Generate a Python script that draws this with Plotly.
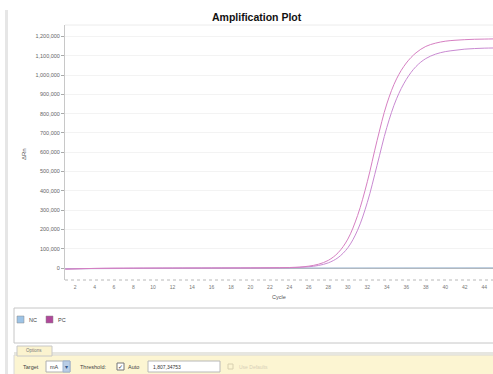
import plotly.graph_objects as go

W, H = 493, 374

cycles = list(range(1, 46))
nc_values = [-4000, -3500, -3000, -2500, -2000, -1500, -1200, -1000, -800, -600,
             -500, -400, -300, -200, -100, 0, 0, 100, 100, 200, 200, 300, 300, 400,
             400, 500, 500, 600, 600, 700, 700, 800, 800, 900, 900, 1000, 1000, 1100,
             1100, 1200, 1200, 1300, 1300, 1400, 1400]
pc1_values = [-6000, -4500, -3000, -2000, -1500, -1000, -800, -600, -400, -300,
              -200, -100, 0, 100, 0, 200, 300, 400, 500, 700, 900, 1300, 1800, 2600,
              4800, 9800, 19900, 39900, 79000, 150000, 272000, 447000, 660000, 850000,
              980000, 1062000, 1115000, 1148000, 1165000, 1175000, 1180000, 1183000,
              1185000, 1186000, 1187000]
pc2_values = [-5000, -4000, -3000, -2200, -1600, -1200, -900, -700, -500, -400,
              -300, -200, -100, 0, 0, 100, 200, 300, 400, 500, 700, 900, 1200, 1600,
              3300, 6600, 13400, 27000, 54000, 105000, 196000, 340000, 532000, 728000,
              877000, 977000, 1044000, 1085000, 1108000, 1121000, 1128000, 1134000,
              1137000, 1139000, 1140000]

x_ticks = list(range(2, 45, 2))
y_ticks = list(range(0, 1200001, 100000))
legend_names = ["NC", "PC"]
legend_colors = ["#9dc3e6", "#b0489a"]


def px(x):
    return x / W


def py(y):
    return 1 - y / H


FONT = "Liberation Sans"
fig = go.Figure()

fig.add_trace(go.Scatter(x=cycles, y=nc_values, mode="lines",
                         line=dict(color="#a9bfd6", width=1), name="NC"))
fig.add_trace(go.Scatter(x=cycles, y=pc2_values, mode="lines", line_shape="spline",
                         line=dict(color="#c98ad2", width=1), name="PC"))
fig.add_trace(go.Scatter(x=cycles, y=pc1_values, mode="lines", line_shape="spline",
                         line=dict(color="#d67fc2", width=1), name="PC"))

fig.update_layout(
    width=W, height=H, margin=dict(l=0, r=0, t=0, b=0),
    paper_bgcolor="white", plot_bgcolor="white", showlegend=False,
    font=dict(family=FONT, color="#555555"),
    xaxis=dict(domain=[px(65), 1.0], range=[0.97, 44.9], tickvals=x_ticks,
               ticktext=[str(v) for v in x_ticks], tickfont=dict(size=5, color="#777777"),
               showgrid=False, zeroline=False, showline=False, ticks="",
               ticklabelstandoff=3),
    yaxis=dict(domain=[py(280), py(25)], range=[-62000, 1259000], tickvals=y_ticks,
               tickformat=",d", tickfont=dict(size=5.5, color="#666666"),
               showgrid=True, gridcolor="#f3f3f3", zeroline=True, zerolinecolor="#b5b5b5",
               zerolinewidth=1, showline=True, linecolor="#c8c8c8", linewidth=1,
               ticks="outside", ticklen=3, tickcolor="#aaaaaa"),
)

shapes = []
# left panel border
shapes.append(dict(type="rect", xref="paper", yref="paper", x0=px(5), x1=px(8),
                   y0=py(374), y1=py(10), fillcolor="#e6e6e6", line=dict(width=0),
                   layer="below"))
# plot top border
shapes.append(dict(type="line", xref="paper", yref="paper", x0=px(65), x1=1,
                   y0=py(25), y1=py(25), line=dict(color="#ececec", width=1)))
# dotted bottom axis line
shapes.append(dict(type="line", xref="paper", yref="paper", x0=px(65), x1=1,
                   y0=py(280), y1=py(280), line=dict(color="#b8b8b8", width=1, dash="dot")))
# legend box
shapes.append(dict(type="rect", xref="paper", yref="paper", x0=px(14), x1=px(495),
                   y0=py(343), y1=py(308), fillcolor="white",
                   line=dict(color="#c6c6c6", width=1)))
# bottom options panel
shapes.append(dict(type="rect", xref="paper", yref="paper", x0=px(14), x1=px(495),
                   y0=py(376), y1=py(355), fillcolor="#fcf5d2", line=dict(color="#d8d8d8", width=1)))
shapes.append(dict(type="rect", xref="paper", yref="paper", x0=px(14), x1=px(495),
                   y0=py(355), y1=py(352), fillcolor="#e6e6e0", line=dict(width=0)))
# options tab
shapes.append(dict(type="rect", xref="paper", yref="paper", x0=px(17), x1=px(52),
                   y0=py(356), y1=py(346), fillcolor="#fbf3cf", line=dict(color="#c8c8c8", width=1)))
# dropdown
shapes.append(dict(type="rect", xref="paper", yref="paper", x0=px(46), x1=px(70),
                   y0=py(372), y1=py(361), fillcolor="white", line=dict(color="#b0b0b0", width=1)))
shapes.append(dict(type="rect", xref="paper", yref="paper", x0=px(63), x1=px(70),
                   y0=py(372), y1=py(361), fillcolor="#b9cde6", line=dict(color="#9fb4d0", width=1)))
# checkbox
shapes.append(dict(type="rect", xref="paper", yref="paper", x0=px(117), x1=px(124),
                   y0=py(370), y1=py(363), fillcolor="white", line=dict(color="#777777", width=1)))
# threshold text box
shapes.append(dict(type="rect", xref="paper", yref="paper", x0=px(148), x1=px(220),
                   y0=py(372), y1=py(361), fillcolor="white", line=dict(color="#b8b8b8", width=1)))
# disabled checkbox
shapes.append(dict(type="rect", xref="paper", yref="paper", x0=px(228), x1=px(233),
                   y0=py(369), y1=py(364), fillcolor="#fcf5d2", line=dict(color="#d8d0b0", width=1)))
# legend squares
for i, (name, col) in enumerate(zip(legend_names, legend_colors)):
    x0 = 17 + i * 29
    shapes.append(dict(type="rect", xref="paper", yref="paper", x0=px(x0), x1=px(x0 + 7),
                       y0=py(323), y1=py(316), fillcolor=col, line=dict(color="#888888", width=0.5)))

annotations = [
    dict(text="<b>Amplification Plot</b>", x=px(257), y=py(17), font=dict(size=10.5, color="#111111")),
    dict(text="ΔRn", x=px(24), y=py(154), textangle=-90, font=dict(size=6, color="#555555")),
    dict(text="Cycle", x=px(279), y=py(297), font=dict(size=5.5, color="#555555")),
    dict(text="Options", x=px(34), y=py(350.5), font=dict(size=4.5, color="#777777")),
    dict(text="Target", x=px(31), y=py(366.5), font=dict(size=5.5, color="#444444")),
    dict(text="mA", x=px(54), y=py(366.5), font=dict(size=5.5, color="#444444")),
    dict(text="▾", x=px(66.5), y=py(366.5), font=dict(size=6, color="#335588")),
    dict(text="Threshold:", x=px(93), y=py(366.5), font=dict(size=5.5, color="#444444")),
    dict(text="✓", x=px(120.5), y=py(366.5), font=dict(size=6, color="#333333")),
    dict(text="Auto", x=px(133), y=py(366.5), font=dict(size=5.5, color="#444444")),
    dict(text="1,807,34753", x=px(151), y=py(366.5), xanchor="left", font=dict(size=5, color="#333333")),
    dict(text="Use Defaults", x=px(237), y=py(366.5), xanchor="left", font=dict(size=5, color="#d8d0b8")),
]
for i, (name, col) in enumerate(zip(legend_names, legend_colors)):
    x0 = 17 + i * 29
    annotations.append(dict(text=name, x=px(x0 + 10), y=py(319.5), xanchor="left",
                            font=dict(size=5.5, color="#444444")))
for a in annotations:
    a.setdefault("xref", "paper")
    a.setdefault("yref", "paper")
    a.setdefault("showarrow", False)
    a.setdefault("xanchor", "center")
    a.setdefault("yanchor", "middle")

fig.update_layout(shapes=shapes, annotations=annotations)
fig.write_html("out.html", config={"displayModeBar": False},
               post_script="document.body.style.margin='0';document.body.style.overflow='hidden';")
